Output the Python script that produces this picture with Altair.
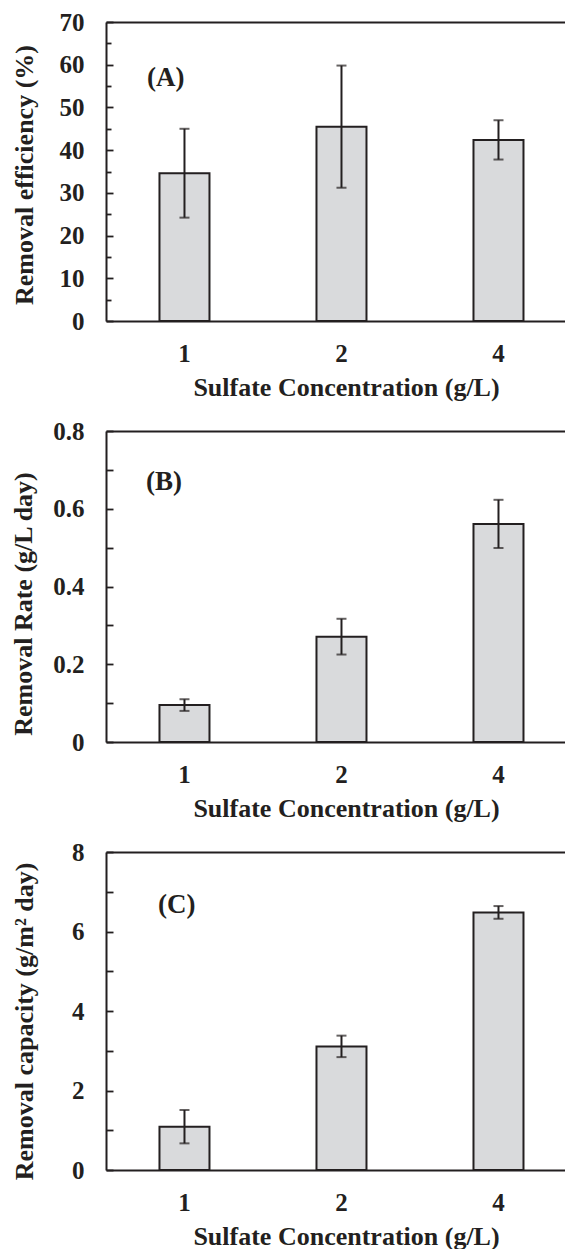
import altair as alt
import pandas as pd

conc = ["1", "2", "4"]

eff = [34.6, 45.5, 42.4]
eff_err = [10.4, 14.3, 4.6]
eff_ticks = [0, 5, 10, 15, 20, 25, 30, 35, 40, 45, 50, 55, 60, 65, 70]
eff_major = [0, 10, 20, 30, 40, 50, 60, 70]

rate = [0.095, 0.271, 0.561]
rate_err = [0.015, 0.046, 0.062]
rate_ticks = [0, 0.1, 0.2, 0.3, 0.4, 0.5, 0.6, 0.7, 0.8]
rate_major = [0, 0.2, 0.4, 0.6, 0.8]

capac = [1.09, 3.11, 6.48]
capac_err = [0.42, 0.27, 0.16]
capac_ticks = [0, 1, 2, 3, 4, 5, 6, 7, 8]
capac_major = [0, 2, 4, 6, 8]

FONT = "Liberation Serif"
INK = "#231f20"
FILL = "#d9dadc"
W = 459


def panel(values, errs, ticks, major, ytitle, tag, height, title_pad, title_shift,
          tag_x, tag_y, major_len, minor_len):
    df = pd.DataFrame({"c": conc, "v": values, "e": errs})
    maj = "[" + ",".join(repr(m) for m in major) + "]"
    is_major = f"indexof({maj}, datum.value) >= 0"
    ymax = ticks[-1]
    yscale = alt.Scale(domain=[0, ymax], nice=False, zero=True)
    xscale = alt.Scale(paddingInner=0.6815, paddingOuter=0.3025, align=0.563)

    xaxis = alt.Axis(
        title="Sulfate Concentration (g/L)", labelAngle=0,
        domain=True, domainColor=INK, domainWidth=2,
        ticks=False, tickSize=0, labelPadding=20, titlePadding=8, titleX=240,
        labelFont=FONT, labelFontSize=25, labelFontWeight="bold", labelColor=INK,
        titleFont=FONT, titleFontSize=26, titleFontWeight="bold", titleColor=INK,
    )
    top_axis = alt.Axis(orient="top", labels=False, ticks=False, title=None,
                        domain=True, domainColor=INK, domainWidth=2, grid=False)

    yaxis = alt.Axis(
        values=major, format="~r", domain=True, domainColor=INK, domainWidth=2,
        ticks=False, tickSize=0, labelPadding=22, labelOverlap=False, grid=False,
        labelFont=FONT, labelFontSize=25, labelFontWeight="bold", labelColor=INK,
        title=ytitle, titleFont=FONT, titleFontSize=26, titleFontWeight="bold",
        titleColor=INK, titlePadding=title_pad, titleY=height / 2 + title_shift,
    )
    tick_axis = alt.Axis(
        orient="right", offset=-W, values=ticks, labels=False, domain=False,
        grid=False, title=None, tickColor=INK, tickWidth=1.8,
        tickSize={"condition": {"test": is_major, "value": major_len}, "value": minor_len},
    )

    base = alt.Chart(df)
    bars = base.mark_bar(fill=FILL, stroke=INK, strokeWidth=2).encode(
        x=alt.X("c:N", sort=conc, axis=xaxis, scale=xscale),
        y=alt.Y("v:Q", scale=yscale, axis=yaxis),
    )
    errd = base.transform_calculate(lo="datum.v - datum.e", hi="datum.v + datum.e")
    rule = errd.mark_rule(color=INK, strokeWidth=2).encode(
        x=alt.X("c:N", sort=conc, axis=None, scale=xscale),
        y=alt.Y("lo:Q", scale=yscale, axis=tick_axis), y2="hi:Q",
    )
    cap_lo = errd.mark_tick(color=INK, thickness=2, size=10).encode(
        x=alt.X("c:N", sort=conc, axis=None, scale=xscale),
        y=alt.Y("lo:Q", scale=yscale, axis=None),
    )
    cap_hi = errd.mark_tick(color=INK, thickness=2, size=10).encode(
        x=alt.X("c:N", sort=conc, axis=top_axis, scale=xscale),
        y=alt.Y("hi:Q", scale=yscale, axis=None),
    )
    label = alt.Chart(pd.DataFrame({"t": [tag]})).mark_text(
        align="left", baseline="middle", font=FONT, fontSize=27,
        fontWeight="bold", color=INK
    ).encode(text="t:N", x=alt.value(tag_x), y=alt.value(tag_y))

    return alt.layer(bars, rule, cap_lo, cap_hi, label).resolve_axis(
        x="independent", y="independent"
    ).properties(width=W, height=height)


pa = panel(eff, eff_err, eff_ticks, eff_major, "Removal efficiency (%)", "(A)",
           299, 22, 3, 41, 56, 7, 5)
pb = panel(rate, rate_err, rate_ticks, rate_major, "Removal Rate (g/L day)", "(B)",
           311, 16, 17, 40, 51, 7, 7)
pc = panel(capac, capac_err, capac_ticks, capac_major, "Removal capacity (g/m\u00b2 day)",
           "(C)", 318, 34, 10, 52, 53, 7, 7)

chart = alt.vconcat(pa, pb, pc, spacing=19).properties(
    padding={"left": 2, "top": 2, "right": 0, "bottom": 0}
).configure_view(strokeWidth=0)

chart.save("out.html", embed_options={"renderer": "svg", "actions": False})
